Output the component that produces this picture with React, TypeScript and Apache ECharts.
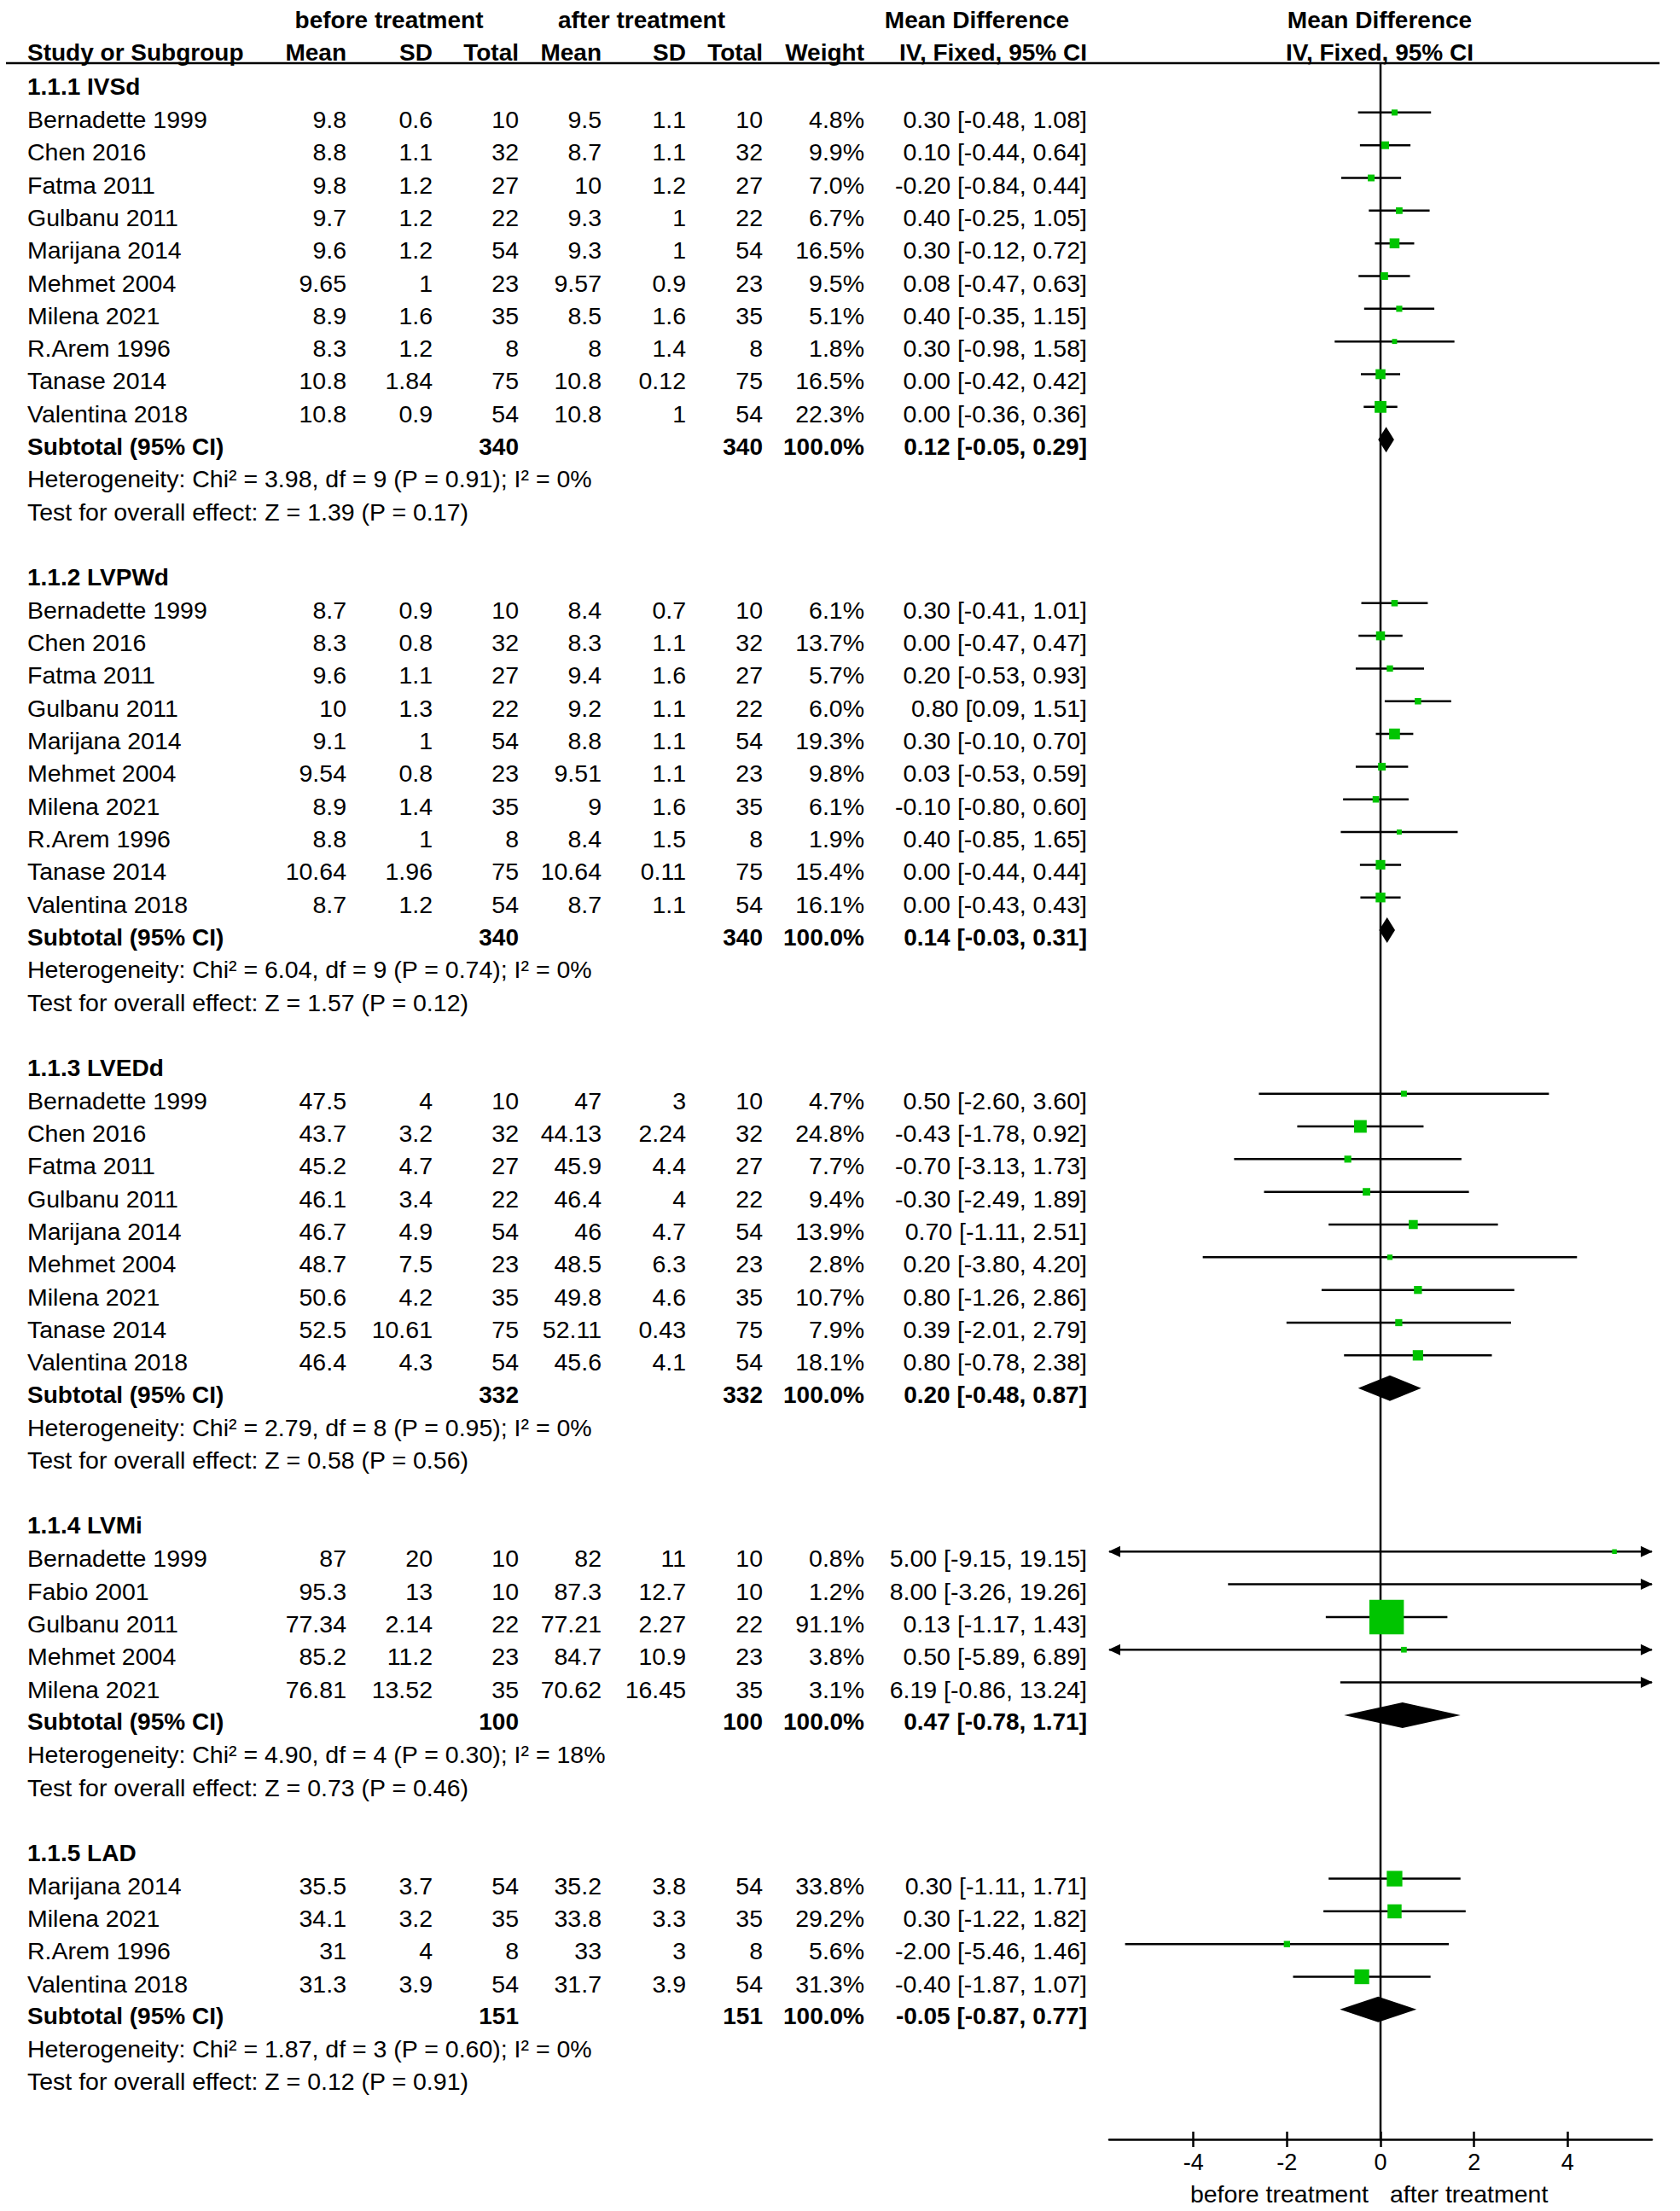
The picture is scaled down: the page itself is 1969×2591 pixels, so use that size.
import React, { useEffect, useRef } from "react";
import * as echarts from "echarts";

// ---------------- DATA ----------------
const groupTitles = ["1.1.1 IVSd", "1.1.2 LVPWd", "1.1.3 LVEDd", "1.1.4 LVMi", "1.1.5 LAD"];

// [study, meanBefore, sdBefore, totalBefore, meanAfter, sdAfter, totalAfter, weight %, MD, lower, upper]
const ivsdRows = [
  ["Bernadette 1999", 9.8, 0.6, 10, 9.5, 1.1, 10, 4.8, 0.3, -0.48, 1.08],
  ["Chen 2016", 8.8, 1.1, 32, 8.7, 1.1, 32, 9.9, 0.1, -0.44, 0.64],
  ["Fatma 2011", 9.8, 1.2, 27, 10, 1.2, 27, 7.0, -0.2, -0.84, 0.44],
  ["Gulbanu 2011", 9.7, 1.2, 22, 9.3, 1, 22, 6.7, 0.4, -0.25, 1.05],
  ["Marijana 2014", 9.6, 1.2, 54, 9.3, 1, 54, 16.5, 0.3, -0.12, 0.72],
  ["Mehmet 2004", 9.65, 1, 23, 9.57, 0.9, 23, 9.5, 0.08, -0.47, 0.63],
  ["Milena 2021", 8.9, 1.6, 35, 8.5, 1.6, 35, 5.1, 0.4, -0.35, 1.15],
  ["R.Arem 1996", 8.3, 1.2, 8, 8, 1.4, 8, 1.8, 0.3, -0.98, 1.58],
  ["Tanase 2014", 10.8, 1.84, 75, 10.8, 0.12, 75, 16.5, 0.0, -0.42, 0.42],
  ["Valentina 2018", 10.8, 0.9, 54, 10.8, 1, 54, 22.3, 0.0, -0.36, 0.36],
];

const lvpwdRows = [
  ["Bernadette 1999", 8.7, 0.9, 10, 8.4, 0.7, 10, 6.1, 0.3, -0.41, 1.01],
  ["Chen 2016", 8.3, 0.8, 32, 8.3, 1.1, 32, 13.7, 0.0, -0.47, 0.47],
  ["Fatma 2011", 9.6, 1.1, 27, 9.4, 1.6, 27, 5.7, 0.2, -0.53, 0.93],
  ["Gulbanu 2011", 10, 1.3, 22, 9.2, 1.1, 22, 6.0, 0.8, 0.09, 1.51],
  ["Marijana 2014", 9.1, 1, 54, 8.8, 1.1, 54, 19.3, 0.3, -0.1, 0.7],
  ["Mehmet 2004", 9.54, 0.8, 23, 9.51, 1.1, 23, 9.8, 0.03, -0.53, 0.59],
  ["Milena 2021", 8.9, 1.4, 35, 9, 1.6, 35, 6.1, -0.1, -0.8, 0.6],
  ["R.Arem 1996", 8.8, 1, 8, 8.4, 1.5, 8, 1.9, 0.4, -0.85, 1.65],
  ["Tanase 2014", 10.64, 1.96, 75, 10.64, 0.11, 75, 15.4, 0.0, -0.44, 0.44],
  ["Valentina 2018", 8.7, 1.2, 54, 8.7, 1.1, 54, 16.1, 0.0, -0.43, 0.43],
];

const lveddRows = [
  ["Bernadette 1999", 47.5, 4, 10, 47, 3, 10, 4.7, 0.5, -2.6, 3.6],
  ["Chen 2016", 43.7, 3.2, 32, 44.13, 2.24, 32, 24.8, -0.43, -1.78, 0.92],
  ["Fatma 2011", 45.2, 4.7, 27, 45.9, 4.4, 27, 7.7, -0.7, -3.13, 1.73],
  ["Gulbanu 2011", 46.1, 3.4, 22, 46.4, 4, 22, 9.4, -0.3, -2.49, 1.89],
  ["Marijana 2014", 46.7, 4.9, 54, 46, 4.7, 54, 13.9, 0.7, -1.11, 2.51],
  ["Mehmet 2004", 48.7, 7.5, 23, 48.5, 6.3, 23, 2.8, 0.2, -3.8, 4.2],
  ["Milena 2021", 50.6, 4.2, 35, 49.8, 4.6, 35, 10.7, 0.8, -1.26, 2.86],
  ["Tanase 2014", 52.5, 10.61, 75, 52.11, 0.43, 75, 7.9, 0.39, -2.01, 2.79],
  ["Valentina 2018", 46.4, 4.3, 54, 45.6, 4.1, 54, 18.1, 0.8, -0.78, 2.38],
];

const lvmiRows = [
  ["Bernadette 1999", 87, 20, 10, 82, 11, 10, 0.8, 5.0, -9.15, 19.15],
  ["Fabio 2001", 95.3, 13, 10, 87.3, 12.7, 10, 1.2, 8.0, -3.26, 19.26],
  ["Gulbanu 2011", 77.34, 2.14, 22, 77.21, 2.27, 22, 91.1, 0.13, -1.17, 1.43],
  ["Mehmet 2004", 85.2, 11.2, 23, 84.7, 10.9, 23, 3.8, 0.5, -5.89, 6.89],
  ["Milena 2021", 76.81, 13.52, 35, 70.62, 16.45, 35, 3.1, 6.19, -0.86, 13.24],
];

const ladRows = [
  ["Marijana 2014", 35.5, 3.7, 54, 35.2, 3.8, 54, 33.8, 0.3, -1.11, 1.71],
  ["Milena 2021", 34.1, 3.2, 35, 33.8, 3.3, 35, 29.2, 0.3, -1.22, 1.82],
  ["R.Arem 1996", 31, 4, 8, 33, 3, 8, 5.6, -2.0, -5.46, 1.46],
  ["Valentina 2018", 31.3, 3.9, 54, 31.7, 3.9, 54, 31.3, -0.4, -1.87, 1.07],
];

const subtotalN = [340, 340, 332, 100, 151];
const subtotalMD = [0.12, 0.14, 0.2, 0.47, -0.05];
const subtotalLo = [-0.05, -0.03, -0.48, -0.78, -0.87];
const subtotalHi = [0.29, 0.31, 0.87, 1.71, 0.77];

const hetChi2 = [3.98, 6.04, 2.79, 4.9, 1.87];
const hetDf = [9, 9, 8, 4, 3];
const hetP = [0.91, 0.74, 0.95, 0.3, 0.6];
const hetI2 = [0, 0, 0, 18, 0];
const effectZ = [1.39, 1.57, 0.58, 0.73, 0.12];
const effectP = [0.17, 0.12, 0.56, 0.46, 0.91];

const axisTicks = [-4, -2, 0, 2, 4];
const axisLeftLabel = "before treatment";
const axisRightLabel = "after treatment";

// ---------------- LAYOUT / STYLE ----------------
const FONT = "'Liberation Sans', Arial, Helvetica, sans-serif";
const FS = 28.5;
const FSB = 28;
const GREEN = "#00c400";
const X_MIN = -5.8;
const X_MAX = 5.8;
const Y_MIN = -0.51;
const Y_MAX = 62.97;
const GRID_TOP = 74;
const GRID_BOTTOM = 84;
const TEXT_DY = 8;
const COL = { name: 32, meanB: 406, sdB: 507, nB: 608, meanA: 705, sdA: 804, nA: 894, w: 1013, ci: 1274 };

const groups = [ivsdRows, lvpwdRows, lveddRows, lvmiRows, ladRows];

const fmtCI = (md: number, lo: number, hi: number) =>
  `${md.toFixed(2)} [${lo.toFixed(2)}, ${hi.toFixed(2)}]`;

type LayoutRow = { kind: string; gi: number; r?: any[] };
const layoutRows: LayoutRow[] = [];
groups.forEach((g, gi) => {
  layoutRows.push({ kind: "group", gi });
  g.forEach((r) => layoutRows.push({ kind: "study", gi, r }));
  layoutRows.push({ kind: "subtotal", gi });
  layoutRows.push({ kind: "het", gi });
  layoutRows.push({ kind: "test", gi });
  if (gi < groups.length - 1) layoutRows.push({ kind: "blank", gi });
});

const studyData: number[][] = [];
const subtotalData: number[][] = [];
layoutRows.forEach((row, i) => {
  if (row.kind === "study" && row.r) {
    const r = row.r;
    studyData.push([r[9], r[10], r[8], r[7], i]);
  } else if (row.kind === "subtotal") {
    subtotalData.push([subtotalLo[row.gi], subtotalHi[row.gi], subtotalMD[row.gi], i]);
  }
});

function txt(x: number, y: number, text: string, align: string, bold = false) {
  return {
    type: "text",
    x,
    y,
    style: {
      text,
      textAlign: align,
      textVerticalAlign: "middle",
      fill: "#000",
      fontSize: bold ? FSB : FS,
      fontWeight: bold ? "bold" : "normal",
      fontFamily: FONT,
    },
  };
}

function headerText(x: number, y: number, text: string, align: string, bold = true) {
  return {
    type: "text",
    x,
    y,
    style: {
      text,
      textAlign: align,
      textVerticalAlign: "middle",
      fill: "#000",
      fontSize: bold ? FSB : FS,
      fontWeight: bold ? "bold" : "normal",
      fontFamily: FONT,
    },
    z: 10,
  };
}

export default function App() {
  const ref = useRef<HTMLDivElement>(null);

  useEffect(() => {
    if (!ref.current) return;
    const chart = echarts.init(ref.current, null, { renderer: "svg" });

    const tableRender = (params: any, api: any) => {
      const idx = api.value(1);
      const row = layoutRows[params.dataIndex];
      const y = api.coord([0, idx])[1] + TEXT_DY;
      const children: any[] = [];
      const gi = row.gi;
      if (row.kind === "group") {
        children.push(txt(COL.name, y, groupTitles[gi], "left", true));
      } else if (row.kind === "study" && row.r) {
        const r = row.r;
        children.push(txt(COL.name, y, String(r[0]), "left"));
        children.push(txt(COL.meanB, y, String(r[1]), "right"));
        children.push(txt(COL.sdB, y, String(r[2]), "right"));
        children.push(txt(COL.nB, y, String(r[3]), "right"));
        children.push(txt(COL.meanA, y, String(r[4]), "right"));
        children.push(txt(COL.sdA, y, String(r[5]), "right"));
        children.push(txt(COL.nA, y, String(r[6]), "right"));
        children.push(txt(COL.w, y, `${(r[7] as number).toFixed(1)}%`, "right"));
        children.push(txt(COL.ci, y, fmtCI(r[8], r[9], r[10]), "right"));
      } else if (row.kind === "subtotal") {
        children.push(txt(COL.name, y, "Subtotal (95% CI)", "left", true));
        children.push(txt(COL.nB, y, String(subtotalN[gi]), "right", true));
        children.push(txt(COL.nA, y, String(subtotalN[gi]), "right", true));
        children.push(txt(COL.w, y, "100.0%", "right", true));
        children.push(txt(COL.ci, y, fmtCI(subtotalMD[gi], subtotalLo[gi], subtotalHi[gi]), "right", true));
      } else if (row.kind === "het") {
        children.push(
          txt(
            COL.name,
            y,
            `Heterogeneity: Chi² = ${hetChi2[gi].toFixed(2)}, df = ${hetDf[gi]} (P = ${hetP[gi].toFixed(2)}); I² = ${hetI2[gi]}%`,
            "left"
          )
        );
      } else if (row.kind === "test") {
        children.push(
          txt(COL.name, y, `Test for overall effect: Z = ${effectZ[gi].toFixed(2)} (P = ${effectP[gi].toFixed(2)})`, "left")
        );
      }
      return { type: "group", children };
    };

    const ARROW = 13;
    const studyRender = (params: any, api: any) => {
      const lo = api.value(0);
      const hi = api.value(1);
      const md = api.value(2);
      const w = api.value(3);
      const ri = api.value(4);
      const y = api.coord([0, ri])[1];
      const xl = api.coord([Math.max(lo, X_MIN), ri])[0];
      const xr = api.coord([Math.min(hi, X_MAX), ri])[0];
      const children: any[] = [
        { type: "line", shape: { x1: xl, y1: y, x2: xr, y2: y }, style: { stroke: "#000", lineWidth: 2.5 } },
      ];
      if (lo < X_MIN) {
        children.push({
          type: "polygon",
          shape: { points: [[xl - 1, y], [xl + ARROW, y - ARROW / 2], [xl + ARROW, y + ARROW / 2]] },
          style: { fill: "#000" },
        });
      }
      if (hi > X_MAX) {
        children.push({
          type: "polygon",
          shape: { points: [[xr + 1, y], [xr - ARROW, y - ARROW / 2], [xr - ARROW, y + ARROW / 2]] },
          style: { fill: "#000" },
        });
      }
      if (md >= X_MIN && md <= X_MAX) {
        const s = 5.2 + 0.387 * w;
        const xm = api.coord([md, ri])[0];
        children.push({
          type: "rect",
          shape: { x: xm - s / 2, y: y - s / 2, width: s, height: s },
          style: { fill: GREEN },
        });
      }
      return { type: "group", children };
    };

    const DIAMOND_H = 15;
    const subtotalRender = (params: any, api: any) => {
      const lo = api.value(0);
      const hi = api.value(1);
      const md = api.value(2);
      const ri = api.value(3);
      const pL = api.coord([lo, ri]);
      const pR = api.coord([hi, ri]);
      const pM = api.coord([md, ri]);
      return {
        type: "polygon",
        shape: {
          points: [
            [pL[0], pL[1]],
            [pM[0], pM[1] - DIAMOND_H],
            [pR[0], pR[1]],
            [pM[0], pM[1] + DIAMOND_H],
          ],
        },
        style: { fill: "#000" },
      };
    };

    const zeroRender = (params: any, api: any) => {
      const top = api.coord([0, Y_MIN]);
      const bot = api.coord([0, Y_MAX]);
      return {
        type: "line",
        shape: { x1: top[0], y1: top[1], x2: bot[0], y2: bot[1] },
        style: { stroke: "#000", lineWidth: 2.5 },
      };
    };

    const option: any = {
      animation: false,
      backgroundColor: "#ffffff",
      textStyle: { fontFamily: FONT },
      grid: [
        { left: 0, width: 1969, top: GRID_TOP, bottom: GRID_BOTTOM, containLabel: false },
        { left: 1300, width: 636, top: GRID_TOP, bottom: GRID_BOTTOM, containLabel: false },
      ],
      xAxis: [
        { gridIndex: 0, type: "value", min: 0, max: 1969, show: false },
        {
          gridIndex: 1,
          type: "value",
          min: X_MIN,
          max: X_MAX,
          position: "bottom",
          axisLine: { show: true, onZero: false, lineStyle: { color: "#000", width: 2.5 } },
          axisTick: { show: true, inside: false, length: 9, customValues: axisTicks, lineStyle: { color: "#000", width: 2.5 } },
          axisLabel: {
            show: true,
            customValues: axisTicks,
            color: "#000",
            fontSize: 27,
            fontFamily: FONT,
            margin: 13,
          },
          splitLine: { show: false },
        },
        {
          gridIndex: 1,
          type: "value",
          min: X_MIN,
          max: X_MAX,
          position: "bottom",
          axisLine: { show: false, onZero: false },
          axisTick: { show: true, inside: true, length: 9, customValues: axisTicks, lineStyle: { color: "#000", width: 2.5 } },
          axisLabel: { show: false },
          splitLine: { show: false },
        },
      ],
      yAxis: [
        { gridIndex: 0, type: "value", min: Y_MIN, max: Y_MAX, inverse: true, show: false },
        { gridIndex: 1, type: "value", min: Y_MIN, max: Y_MAX, inverse: true, show: false },
      ],
      graphic: [
        {
          type: "line",
          shape: { x1: 7, y1: GRID_TOP, x2: 1945, y2: GRID_TOP },
          style: { stroke: "#000", lineWidth: 2.5 },
          z: 10,
        },
        headerText(456, 23, "before treatment", "center"),
        headerText(752, 23, "after treatment", "center"),
        headerText(1145, 23, "Mean Difference", "center"),
        headerText(1617, 23, "Mean Difference", "center"),
        headerText(COL.name, 61, "Study or Subgroup", "left"),
        headerText(COL.meanB, 61, "Mean", "right"),
        headerText(COL.sdB, 61, "SD", "right"),
        headerText(COL.nB, 61, "Total", "right"),
        headerText(COL.meanA, 61, "Mean", "right"),
        headerText(COL.sdA, 61, "SD", "right"),
        headerText(COL.nA, 61, "Total", "right"),
        headerText(COL.w, 61, "Weight", "right"),
        headerText(COL.ci, 61, "IV, Fixed, 95% CI", "right"),
        headerText(1617, 61, "IV, Fixed, 95% CI", "center"),
        headerText(1604, 2571, axisLeftLabel, "right", false),
        headerText(1629, 2571, axisRightLabel, "left", false),
      ],
      series: [
        {
          type: "custom",
          name: "table",
          xAxisIndex: 0,
          yAxisIndex: 0,
          clip: false,
          silent: true,
          renderItem: tableRender,
          encode: { x: 0, y: 1 },
          data: layoutRows.map((_, i) => [0, i]),
        },
        {
          type: "custom",
          name: "zero",
          xAxisIndex: 1,
          yAxisIndex: 1,
          clip: false,
          silent: true,
          renderItem: zeroRender,
          encode: { x: 0, y: 1 },
          data: [[0, 0]],
        },
        {
          type: "custom",
          name: "studies",
          xAxisIndex: 1,
          yAxisIndex: 1,
          clip: false,
          silent: true,
          renderItem: studyRender,
          encode: { x: [0, 1, 2], y: 4 },
          data: studyData,
        },
        {
          type: "custom",
          name: "subtotals",
          xAxisIndex: 1,
          yAxisIndex: 1,
          clip: false,
          silent: true,
          renderItem: subtotalRender,
          encode: { x: [0, 1, 2], y: 3 },
          data: subtotalData,
        },
      ],
    };

    chart.setOption(option);
    return () => chart.dispose();
  }, []);

  return (
    <div
      ref={ref}
      style={{ position: "absolute", left: 0, top: 0, width: 1969, height: 2591, background: "#fff" }}
    />
  );
}
